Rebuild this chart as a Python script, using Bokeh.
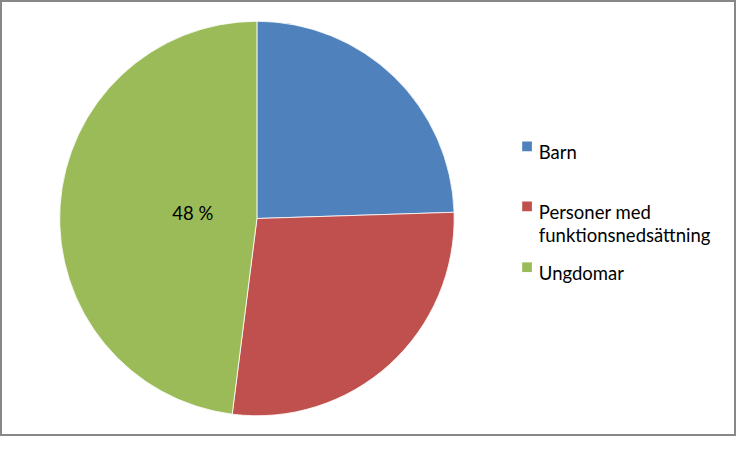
import numpy as np
from bokeh.plotting import figure
from bokeh.models import ColumnDataSource, Range1d
from bokeh.core.properties import value
from bokeh.embed import file_html
from bokeh.resources import INLINE

categories = ["Barn", "Personer med\nfunktionsnedsättning", "Ungdomar"]
legend_lines = [["Barn"], ["Personer med", "funktionsnedsättning"], ["Ungdomar"]]
shares = [24.5, 27.5, 48.0]
colors = ["#4F81BD", "#C0504D", "#9BBB59"]
shown_labels = ["", "", "48 %"]

W, H = 736, 436
SX, SY = W / 752, H / 452
S = (SX + SY) / 2


def X(v):
    return v * SX


def Y(v):
    return H - v * SY


p = figure(width=W, height=H, output_backend="svg", toolbar_location=None,
           x_range=Range1d(0, W), y_range=Range1d(0, H), min_border=0)
p.axis.visible = False
p.grid.visible = False
p.background_fill_color = "white"
p.border_fill_color = "white"
p.outline_line_color = "#878787"
p.outline_line_width = 3

cx, cy, r = X(262), Y(226), 203 * S
frac = np.array(shares) / sum(shares)
cum = np.concatenate([[0], np.cumsum(frac)])
start = np.pi / 2 - cum[:-1] * 2 * np.pi
end = np.pi / 2 - cum[1:] * 2 * np.pi
src = ColumnDataSource(dict(start=start, end=end, color=colors))
p.wedge(x=cx, y=cy, radius=r, start_angle="start", end_angle="end",
        direction="clock", fill_color="color", line_color="white",
        line_width=0.8, source=src)

fs = f"{19 * S:.1f}px"

# data label for Ungdomar
p.text(x=[X(196.5)], y=[Y(220.7)], text=[shown_labels[2]], text_font=value("Lato"),
       text_font_size=fs, text_color="black", text_align="center",
       text_baseline="alphabetic")

# legend
ly = [156.7, 219.0, 282.0]
for k, lines in enumerate(legend_lines):
    p.rect(x=[X(538)], y=[Y(ly[k] - 5.5)], width=10 * S, height=10 * S,
           fill_color=colors[k], line_color=None)
    for j, t in enumerate(lines):
        p.text(x=[X(550)], y=[Y(ly[k] + 24.5 * j)], text=[t], text_font=value("Lato"),
               text_font_size=fs, text_color="black", text_align="left",
               text_baseline="alphabetic")

open("out.html", "w").write(file_html(p, INLINE))
